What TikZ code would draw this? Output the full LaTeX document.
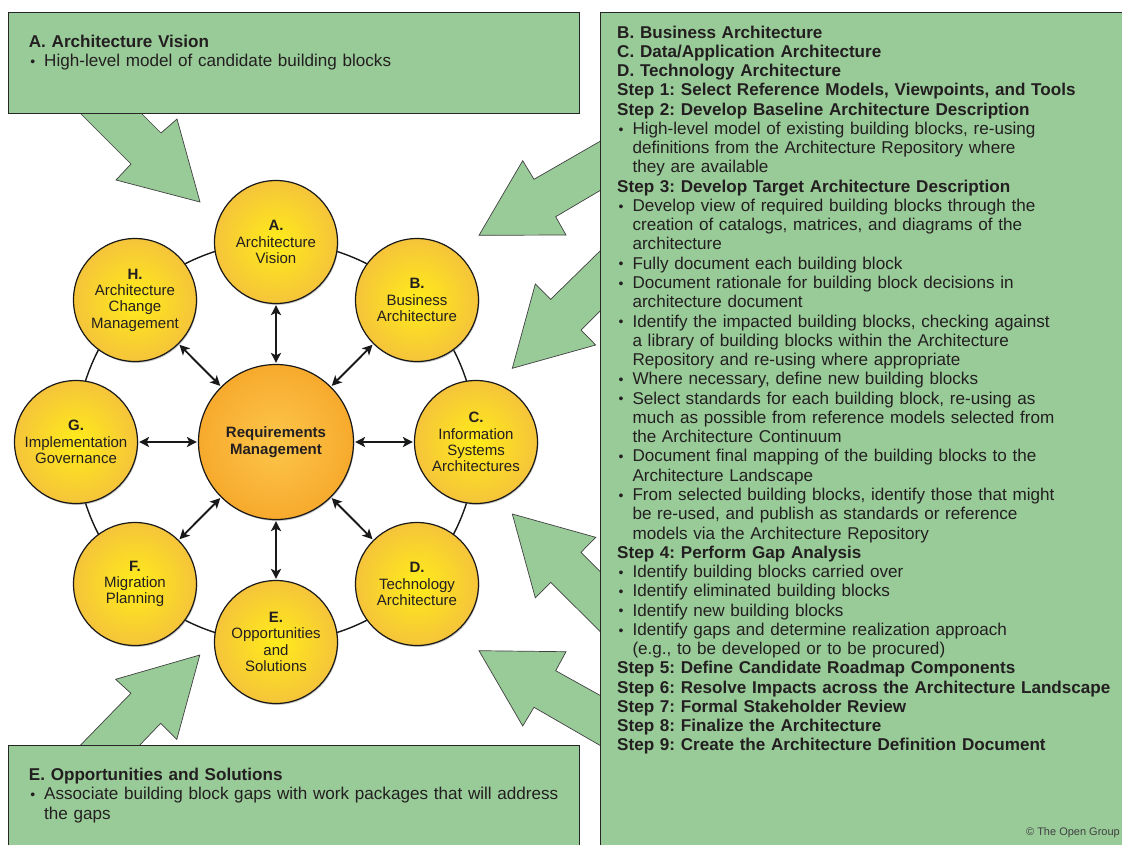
\documentclass[tikz,border=0pt]{standalone}
\usepackage{fontspec}
\setmainfont{Liberation Sans}
\usetikzlibrary{arrows.meta,shadows}
\definecolor{boxgreen}{RGB}{153,203,153}
\definecolor{txt}{RGB}{35,31,32}
\definecolor{ylin}{RGB}{255,236,26}
\definecolor{ylout}{RGB}{245,196,58}
\definecolor{orin}{RGB}{252,198,74}
\definecolor{orout}{RGB}{247,170,45}
\newcommand{\bu}{\makebox[15.3pt][l]{\hspace{1.5pt}{\fontsize{14}{14}\selectfont\raisebox{0.3pt}{•}}}}
\newcommand{\ct}{\hspace*{15.3pt}}
\begin{document}
\frenchspacing
\begin{tikzpicture}[x=1pt,y=-1pt,
  panel/.style={fill=boxgreen, draw=black!85, line width=0.9pt},
  blockarrow/.style={fill=boxgreen, draw=black!75, line width=0.7pt, line join=miter},
  phase/.style={circle, draw=black!90, line width=1.2pt, minimum size=123pt, inner sep=0pt,
    inner color=ylin, outer color=ylout, align=center, text=txt,
    font=\fontsize{15}{16.3}\selectfont\frenchspacing,
    drop shadow={shadow xshift=0.8pt, shadow yshift=-1.4pt, opacity=0.45}},
  reqc/.style={phase, minimum size=155pt, inner color=orin, outer color=orout},
  ring/.style={draw=black!90, line width=1.4pt},
  link/.style={{Stealth[length=10pt,width=10pt,inset=2.5pt]}-{Stealth[length=10pt,width=10pt,inset=2.5pt]},
    line width=1.9pt, draw=black!90, shorten <=1pt, shorten >=1pt},
  body/.style={anchor=base west, inner sep=0pt, align=left, text=txt, text width=560pt,
    font=\fontsize{17.1}{19.27}\selectfont\frenchspacing},
]
\useasboundingbox (0,0) rectangle (1122,844);
\fill[white] (0,0) rectangle (1122,844);
\clip (0,0) rectangle (1122,844);

% block arrows
\draw[blockarrow] (77,110) -- (131,164) -- (116,180) -- (200,202) -- (177,119) -- (161,133) -- (138,110) -- cycle;
\draw[blockarrow] (603,139.6) -- (534,179.3) -- (522.7,160.7) -- (479,235.3) -- (566,235) -- (555.7,216.7) -- (603,188.8) -- cycle;
\draw[blockarrow] (603,248.1) -- (550.7,299.3) -- (535.3,284) -- (512.3,368.3) -- (595.7,345) -- (581,330) -- (603,308) -- cycle;
\draw[blockarrow] (603,574.4) -- (581,552.3) -- (595.7,537.3) -- (512.3,514) -- (535.3,597.7) -- (550.7,582.3) -- (603,634.4) -- cycle;
\draw[blockarrow] (603,697) -- (555.7,670.7) -- (566,651.7) -- (479,650.7) -- (522.7,726) -- (534,707.3) -- (603,747.1) -- cycle;
\draw[blockarrow] (77.7,748) -- (130.9,693.3) -- (115.6,679.3) -- (199.8,655) -- (176.8,739.3) -- (160.7,723.3) -- (137,748) -- cycle;

% panels
\draw[panel] (8.5,12) rectangle (579.5,113);
\draw[panel] (8.5,745) rectangle (579.5,850);
\draw[panel] (600,12) rectangle (1130,850);

\node[body] (ta) at (28.7,47.7) {\textbf{A. Architecture Vision}\\
\bu High-level model of candidate building blocks};

\node[body] (te) at (28.7,780.7) {\textbf{E. Opportunities and Solutions}\\
\bu Associate building block gaps with work packages that will address\\
\ct the gaps};

\node[body] (tr) at (617,38) {\textbf{B. Business Architecture}\\
\textbf{C. Data/Application Architecture}\\
\textbf{D. Technology Architecture}\\
\textbf{Step 1: Select Reference Models, Viewpoints, and Tools}\\
\textbf{Step 2: Develop Baseline Architecture Description}\\
\bu High-level model of existing building blocks, re-using\\
\ct definitions from the Architecture Repository where\\
\ct they are available\\
\textbf{Step 3: Develop Target Architecture Description}\\
\bu Develop view of required building blocks through the\\
\ct creation of catalogs, matrices, and diagrams of the\\
\ct architecture\\
\bu Fully document each building block\\
\bu Document rationale for building block decisions in\\
\ct architecture document\\
\bu Identify the impacted building blocks, checking against\\
\ct a library of building blocks within the Architecture\\
\ct Repository and re-using where appropriate\\
\bu Where necessary, define new building blocks\\
\bu Select standards for each building block, re-using as\\
\ct much as possible from reference models selected from\\
\ct the Architecture Continuum\\
\bu Document final mapping of the building blocks to the\\
\ct Architecture Landscape\\
\bu From selected building blocks, identify those that might\\
\ct be re-used, and publish as standards or reference\\
\ct models via the Architecture Repository\\
\textbf{Step 4: Perform Gap Analysis}\\
\bu Identify building blocks carried over\\
\bu Identify eliminated building blocks\\
\bu Identify new building blocks\\
\bu Identify gaps and determine realization approach\\
\ct (e.g., to be developed or to be procured)\\
\textbf{Step 5: Define Candidate Roadmap Components}\\
\textbf{Step 6: Resolve Impacts across the Architecture Landscape}\\
\textbf{Step 7: Formal Stakeholder Review}\\
\textbf{Step 8: Finalize the Architecture}\\
\textbf{Step 9: Create the Architecture Definition Document}};

\node[anchor=base east, inner sep=0pt, text=black!75, font=\fontsize{11}{12}\selectfont] (copy) at (1120,835) {© The Open Group};

% cycle
\coordinate (ctr) at (276,442);
\draw[ring] (ctr) circle[radius=200];

\node[reqc] (req) at (276,442) {\textbf{Requirements}\\\textbf{Management}};
\node[phase] (a) at (276,242) {\textbf{A.}\\Architecture\\Vision};
\node[phase] (b) at (417,300) {\textbf{B.}\\Business\\Architecture};
\node[phase] (c) at (476,442) {\textbf{C.}\\Information\\Systems\\Architectures};
\node[phase] (d) at (417,584) {\textbf{D.}\\Technology\\Architecture};
\node[phase] (e) at (276,642) {\textbf{E.}\\Opportunities\\and\\Solutions};
\node[phase] (f) at (135,584) {\textbf{F.}\\Migration\\Planning};
\node[phase] (g) at (76,442) {\textbf{G.}\\Implementation\\Governance};
\node[phase] (h) at (135,300) {\textbf{H.}\\Architecture\\Change\\Management};

\foreach \n in {a,b,c,d,e,f,g,h} \draw[link] (req) -- (\n);
\end{tikzpicture}
\end{document}
